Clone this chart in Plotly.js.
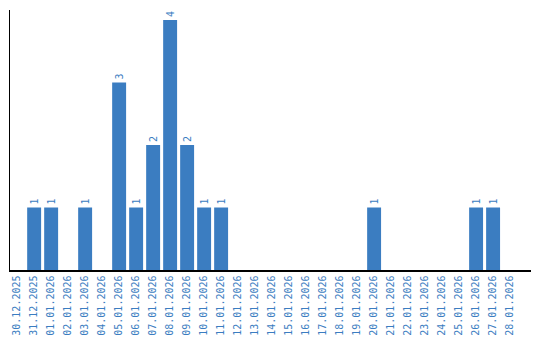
<!DOCTYPE html>
<html>
<head>
<meta charset="utf-8">
<script src="https://cdn.plot.ly/plotly-3.0.1.min.js"></script>
<style>html,body{margin:0;padding:0;background:#fff;}#chart{width:540px;height:340px;}</style>
</head>
<body>
<div id="chart"></div>
<script>
const dates = ["30.12.2025","31.12.2025","01.01.2026","02.01.2026","03.01.2026","04.01.2026","05.01.2026","06.01.2026","07.01.2026","08.01.2026","09.01.2026","10.01.2026","11.01.2026","12.01.2026","13.01.2026","14.01.2026","15.01.2026","16.01.2026","17.01.2026","18.01.2026","19.01.2026","20.01.2026","21.01.2026","22.01.2026","23.01.2026","24.01.2026","25.01.2026","26.01.2026","27.01.2026","28.01.2026"];
const counts = [0,1,1,0,1,0,3,1,2,4,2,1,1,0,0,0,0,0,0,0,0,1,0,0,0,0,0,1,1,0];
const labels = counts.map(v => v > 0 ? String(v) : "");

const blue = "#3b7dc1";
const font = {family: "DejaVu Sans Mono, monospace", size: 10, color: blue};

Plotly.newPlot("chart", [{
  type: "bar",
  x: dates,
  y: counts,
  text: labels,
  textposition: "outside",
  textangle: -90,
  textfont: font,
  cliponaxis: false,
  marker: {color: blue},
  hoverinfo: "x+y"
}], {
  width: 540, height: 340,
  margin: {l: 10, r: 9, t: 10, b: 70},
  paper_bgcolor: "#fff", plot_bgcolor: "#fff",
  bargap: 0.18,
  showlegend: false,
  xaxis: {
    type: "category",
    range: [-0.42, 30.23],
    tickangle: -90,
    tickfont: font,
    showline: true, linecolor: "#000", linewidth: 1.5,
    showgrid: false, zeroline: false, ticks: "", ticklen: 0
  },
  yaxis: {
    range: [0, 4.16],
    showticklabels: false,
    showline: true, linecolor: "#000", linewidth: 1.5,
    showgrid: false, zeroline: false, ticks: ""
  }
}, {displayModeBar: false, staticPlot: true});
</script>
</body>
</html>
